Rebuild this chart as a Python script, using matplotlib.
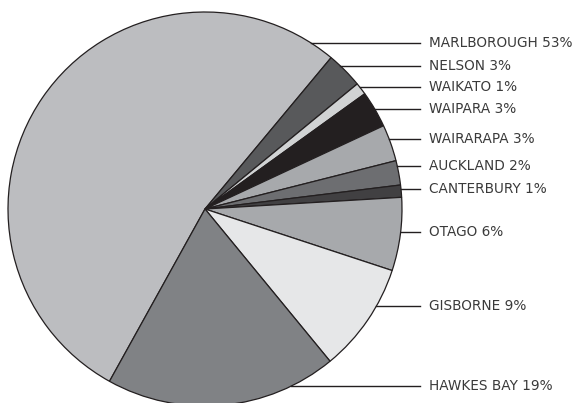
import numpy as np
import matplotlib
matplotlib.use("Agg")
import matplotlib.pyplot as plt

# wine regions, share of vineyard area (%)
regions = ["MARLBOROUGH", "NELSON", "WAIKATO", "WAIPARA", "WAIRARAPA",
           "AUCKLAND", "CANTERBURY", "OTAGO", "GISBORNE", "HAWKES BAY"]
shares = [53, 3, 1, 3, 3, 2, 1, 6, 9, 19]
colors = ["#bcbdc0", "#58595b", "#d1d3d4", "#231f20", "#a7a9ac",
          "#6d6e71", "#414042", "#a7a9ac", "#e6e7e8", "#808285"]

# label rows (pixel y from top), layout only
label_y_px = [43, 66, 87, 109, 139, 166, 189, 232, 306, 386]

W, H = 577, 403
cx, cy, R = 205, 209, 197  # pie centre / radius in pixels

fig = plt.figure(figsize=(W / 100, H / 100), dpi=100)
ax = fig.add_axes([0, 0, 1, 1])
ax.axis("off")

ax.pie(shares, colors=colors, startangle=241, counterclock=False,
       radius=1.0, center=(0, 0),
       wedgeprops=dict(edgecolor="#231f20", linewidth=0.9))
ax.set_xlim(-cx / R, (W - cx) / R)
ax.set_ylim(-(H - cy) / R, cy / R)

line_end = (420 - cx) / R
text_x = (429 - cx) / R
for name, val, ypx in zip(regions, shares, label_y_px):
    y = (cy - ypx) / R
    x0 = np.sqrt(max(1 - y ** 2, 0))
    ax.plot([x0, line_end], [y, y], color="#231f20", lw=1.0)
    ax.text(text_x, y, f"{name} {val}%", ha="left", va="center",
            fontsize=9.8, color="#3a3a3a", family="DejaVu Sans")

fig.savefig("out.png", dpi=100)
